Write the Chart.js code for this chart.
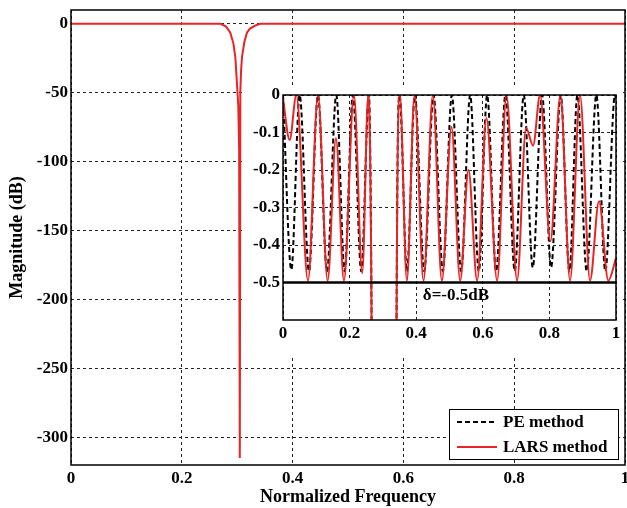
<!DOCTYPE html>
<html>
<head>
<meta charset="utf-8">
<script src="https://cdn.jsdelivr.net/npm/chart.js@4/dist/chart.umd.min.js"></script>
<style>
  html, body { margin: 0; padding: 0; background: #fff; }
  #wrap { position: relative; width: 627px; height: 508px; }
  #main { position: absolute; left: 0; top: 0; }
  #inset { position: absolute; left: 245px; top: 85px; background: #fff; }
</style>
</head>
<body>
<div id="wrap">
  <canvas id="main" width="627" height="508"></canvas>
  <canvas id="inset" width="375" height="272"></canvas>
</div>
<script>
var seriesNames = ["PE method", "LARS method"];
var seriesColors = ["#000000", "#e82424"];

// whole band (LARS response)
var mainFreq = [0, 0.27, 0.28, 0.2875, 0.293, 0.2966, 0.3, 0.302, 0.3035, 0.3047, 0.3056, 0.307, 0.3087, 0.313, 0.3176, 0.323, 0.329, 0.336, 0.342, 1];
var mainLars = [0, 0, -2, -6.5, -14, -24, -46, -60, -92, -315, -50, -34, -24, -13, -6.5, -3.5, -2, -0.7, 0, 0];
var mainXTicks = [0, 0.2, 0.4, 0.6, 0.8, 1];
var mainYTicks = [0, -50, -100, -150, -200, -250, -300];

// inset: passband ripple
var insetPeFreq = [0, 0.025, 0.05, 0.078, 0.105, 0.132, 0.16, 0.185, 0.21, 0.235, 0.258, 0.266, 0.275, 0.305, 0.335, 0.341, 0.35,
  0.372, 0.396, 0.424, 0.452, 0.48, 0.507, 0.535, 0.562, 0.588, 0.613, 0.64, 0.668, 0.696, 0.723, 0.75, 0.778, 0.805,
  0.834, 0.86, 0.884, 0.912, 0.941, 0.968, 0.997, 1];
var insetPe = [0, -0.466, 0, -0.47, 0, -0.47, 0, -0.47, 0, -0.47, 0, -0.6, -3, -50, -3, -0.6, 0,
  -0.47, 0, -0.47, 0, -0.47, 0, -0.47, 0, -0.47, 0, -0.47, 0, -0.47, 0, -0.46, 0, -0.46,
  0, -0.47, 0, -0.47, 0, -0.47, 0, -0.01];

var insetLarsFreq = [0, 0.02, 0.04, 0.075, 0.105, 0.134, 0.159, 0.183, 0.213, 0.238, 0.256, 0.266, 0.275, 0.305, 0.335, 0.341, 0.351,
  0.372, 0.395, 0.422, 0.45, 0.477, 0.506, 0.532, 0.557, 0.583, 0.611, 0.643, 0.671, 0.703, 0.73, 0.751, 0.772,
  0.803, 0.833, 0.862, 0.892, 0.922, 0.949, 0.977, 1];
var insetLars = [-0.01, -0.12, 0, -0.495, 0, -0.495, -0.115, -0.495, 0, -0.475, 0, -0.6, -3, -50, -3, -0.6, 0,
  -0.495, 0, -0.495, 0, -0.495, -0.085, -0.495, -0.2, -0.495, -0.061, -0.495, 0, -0.495, -0.088, -0.135, 0,
  -0.39, 0, -0.495, 0, -0.495, -0.283, -0.495, -0.435];

var insetXTicks = [0, 0.2, 0.4, 0.6, 0.8, 1];
var insetYTicks = [0, -0.1, -0.2, -0.3, -0.4, -0.5];
var deltaLevel = -0.5;
var deltaLabel = "\u03b4=-0.5dB";
var deltaLabelAt = [0.42, -0.535];

var FONT = "'Liberation Serif', 'Times New Roman', serif";

function pts(xs, ys) {
  return xs.map(function (x, i) { return { x: x, y: ys[i] }; });
}

function fixedTicks(values) {
  return function (scale) {
    scale.ticks = values.map(function (v) { return { value: v }; });
  };
}

var boxPlugin = {
  id: "box",
  afterDraw: function (chart) {
    var a = chart.chartArea, ctx = chart.ctx;
    ctx.save();
    ctx.strokeStyle = "#000";
    ctx.lineWidth = 1.5;
    ctx.setLineDash([]);
    ctx.strokeRect(a.left, a.top, a.right - a.left, a.bottom - a.top);
    ctx.restore();
  }
};

function axisOpts(ticks, min, max, extra) {
  var o = {
    type: "linear",
    min: min,
    max: max,
    afterBuildTicks: fixedTicks(ticks),
    grid: { color: "#222", lineWidth: 1, drawTicks: false },
    border: { display: false, dash: [3, 3] },
    ticks: {
      color: "#000",
      font: { family: FONT, size: 17, weight: "bold" },
      autoSkip: false,
      maxRotation: 0,
      callback: function (v) { return String(v); }
    }
  };
  for (var k in extra) o[k] = extra[k];
  return o;
}

// main chart
var legendPlugin = {
  id: "boxLegend",
  afterDraw: function (chart) {
    var a = chart.chartArea, ctx = chart.ctx;
    var w = 169, h = 50;
    var x0 = a.right - 7 - w, y0 = a.bottom - 6 - h;
    ctx.save();
    ctx.fillStyle = "#fff";
    ctx.fillRect(x0, y0, w, h);
    ctx.strokeStyle = "#000";
    ctx.lineWidth = 1;
    ctx.strokeRect(x0 + 0.5, y0 + 0.5, w, h);
    ctx.font = "bold 17px " + FONT;
    ctx.textBaseline = "middle";
    seriesNames.forEach(function (name, i) {
      var y = y0 + 13 + i * 25;
      ctx.strokeStyle = seriesColors[i];
      ctx.lineWidth = 2;
      ctx.setLineDash(i === 0 ? [5, 3] : []);
      ctx.beginPath();
      ctx.moveTo(x0 + 8, y);
      ctx.lineTo(x0 + 48, y);
      ctx.stroke();
      ctx.setLineDash([]);
      ctx.fillStyle = "#000";
      ctx.fillText(name, x0 + 54, y + 1);
    });
    ctx.restore();
  }
};

new Chart(document.getElementById("main"), {
  type: "line",
  data: {
    datasets: [{
      label: seriesNames[1],
      data: pts(mainFreq, mainLars),
      borderColor: seriesColors[1],
      borderWidth: 2,
      pointRadius: 0,
      tension: 0,
      fill: false
    }]
  },
  options: {
    responsive: false,
    devicePixelRatio: 1,
    animation: false,
    layout: { padding: { top: 10, right: 2, bottom: 0, left: 0 } },
    plugins: { legend: { display: false }, tooltip: { enabled: false } },
    scales: {
      x: axisOpts(mainXTicks, 0, 1, {
        title: { display: true, text: "Normalized Frequency", color: "#000",
          font: { family: FONT, size: 18, weight: "bold" }, padding: { top: 0, bottom: 0 } },
        afterFit: function (s) { s.height = 43; s.paddingLeft = 0; s.paddingRight = 0; }
      }),
      y: axisOpts(mainYTicks, -320, 10, {
        title: { display: true, text: "Magnitude (dB)", color: "#000",
          font: { family: FONT, size: 18, weight: "bold" }, padding: { top: 7, bottom: 0 } },
        afterFit: function (s) { s.width = 71; s.paddingTop = 0; s.paddingBottom = 0; }
      })
    }
  },
  plugins: [boxPlugin, legendPlugin]
});

// inset chart
var deltaTextPlugin = {
  id: "deltaText",
  afterDatasetsDraw: function (chart) {
    var ctx = chart.ctx;
    var x = chart.scales.x.getPixelForValue(deltaLabelAt[0]);
    var y = chart.scales.y.getPixelForValue(deltaLabelAt[1]);
    ctx.save();
    ctx.font = "bold 17px " + FONT;
    ctx.fillStyle = "#000";
    ctx.textBaseline = "middle";
    ctx.fillText(deltaLabel, x, y);
    ctx.restore();
  }
};

new Chart(document.getElementById("inset"), {
  type: "line",
  data: {
    datasets: [
      {
        label: "delta",
        data: pts([0, 1], [deltaLevel, deltaLevel]),
        borderColor: "#000",
        borderWidth: 2.5,
        pointRadius: 0,
        fill: false
      },
      {
        label: seriesNames[1],
        data: pts(insetLarsFreq, insetLars),
        borderColor: seriesColors[1],
        borderWidth: 2,
        pointRadius: 0,
        cubicInterpolationMode: "monotone",
        fill: false
      },
      {
        label: seriesNames[0],
        data: pts(insetPeFreq, insetPe),
        borderColor: seriesColors[0],
        borderWidth: 2,
        borderDash: [5, 3],
        pointRadius: 0,
        cubicInterpolationMode: "monotone",
        fill: false
      }
    ]
  },
  options: {
    responsive: false,
    devicePixelRatio: 1,
    animation: false,
    layout: { padding: { top: 10, right: 4, bottom: 0, left: 0 } },
    plugins: { legend: { display: false }, tooltip: { enabled: false } },
    scales: {
      x: axisOpts(insetXTicks, 0, 1, {
        afterFit: function (s) { s.height = 37; s.paddingLeft = 0; s.paddingRight = 0; }
      }),
      y: axisOpts(insetYTicks, -0.6, 0, {
        afterFit: function (s) { s.width = 38; s.paddingTop = 0; s.paddingBottom = 0; }
      })
    }
  },
  plugins: [boxPlugin, deltaTextPlugin]
});
</script>
</body>
</html>
